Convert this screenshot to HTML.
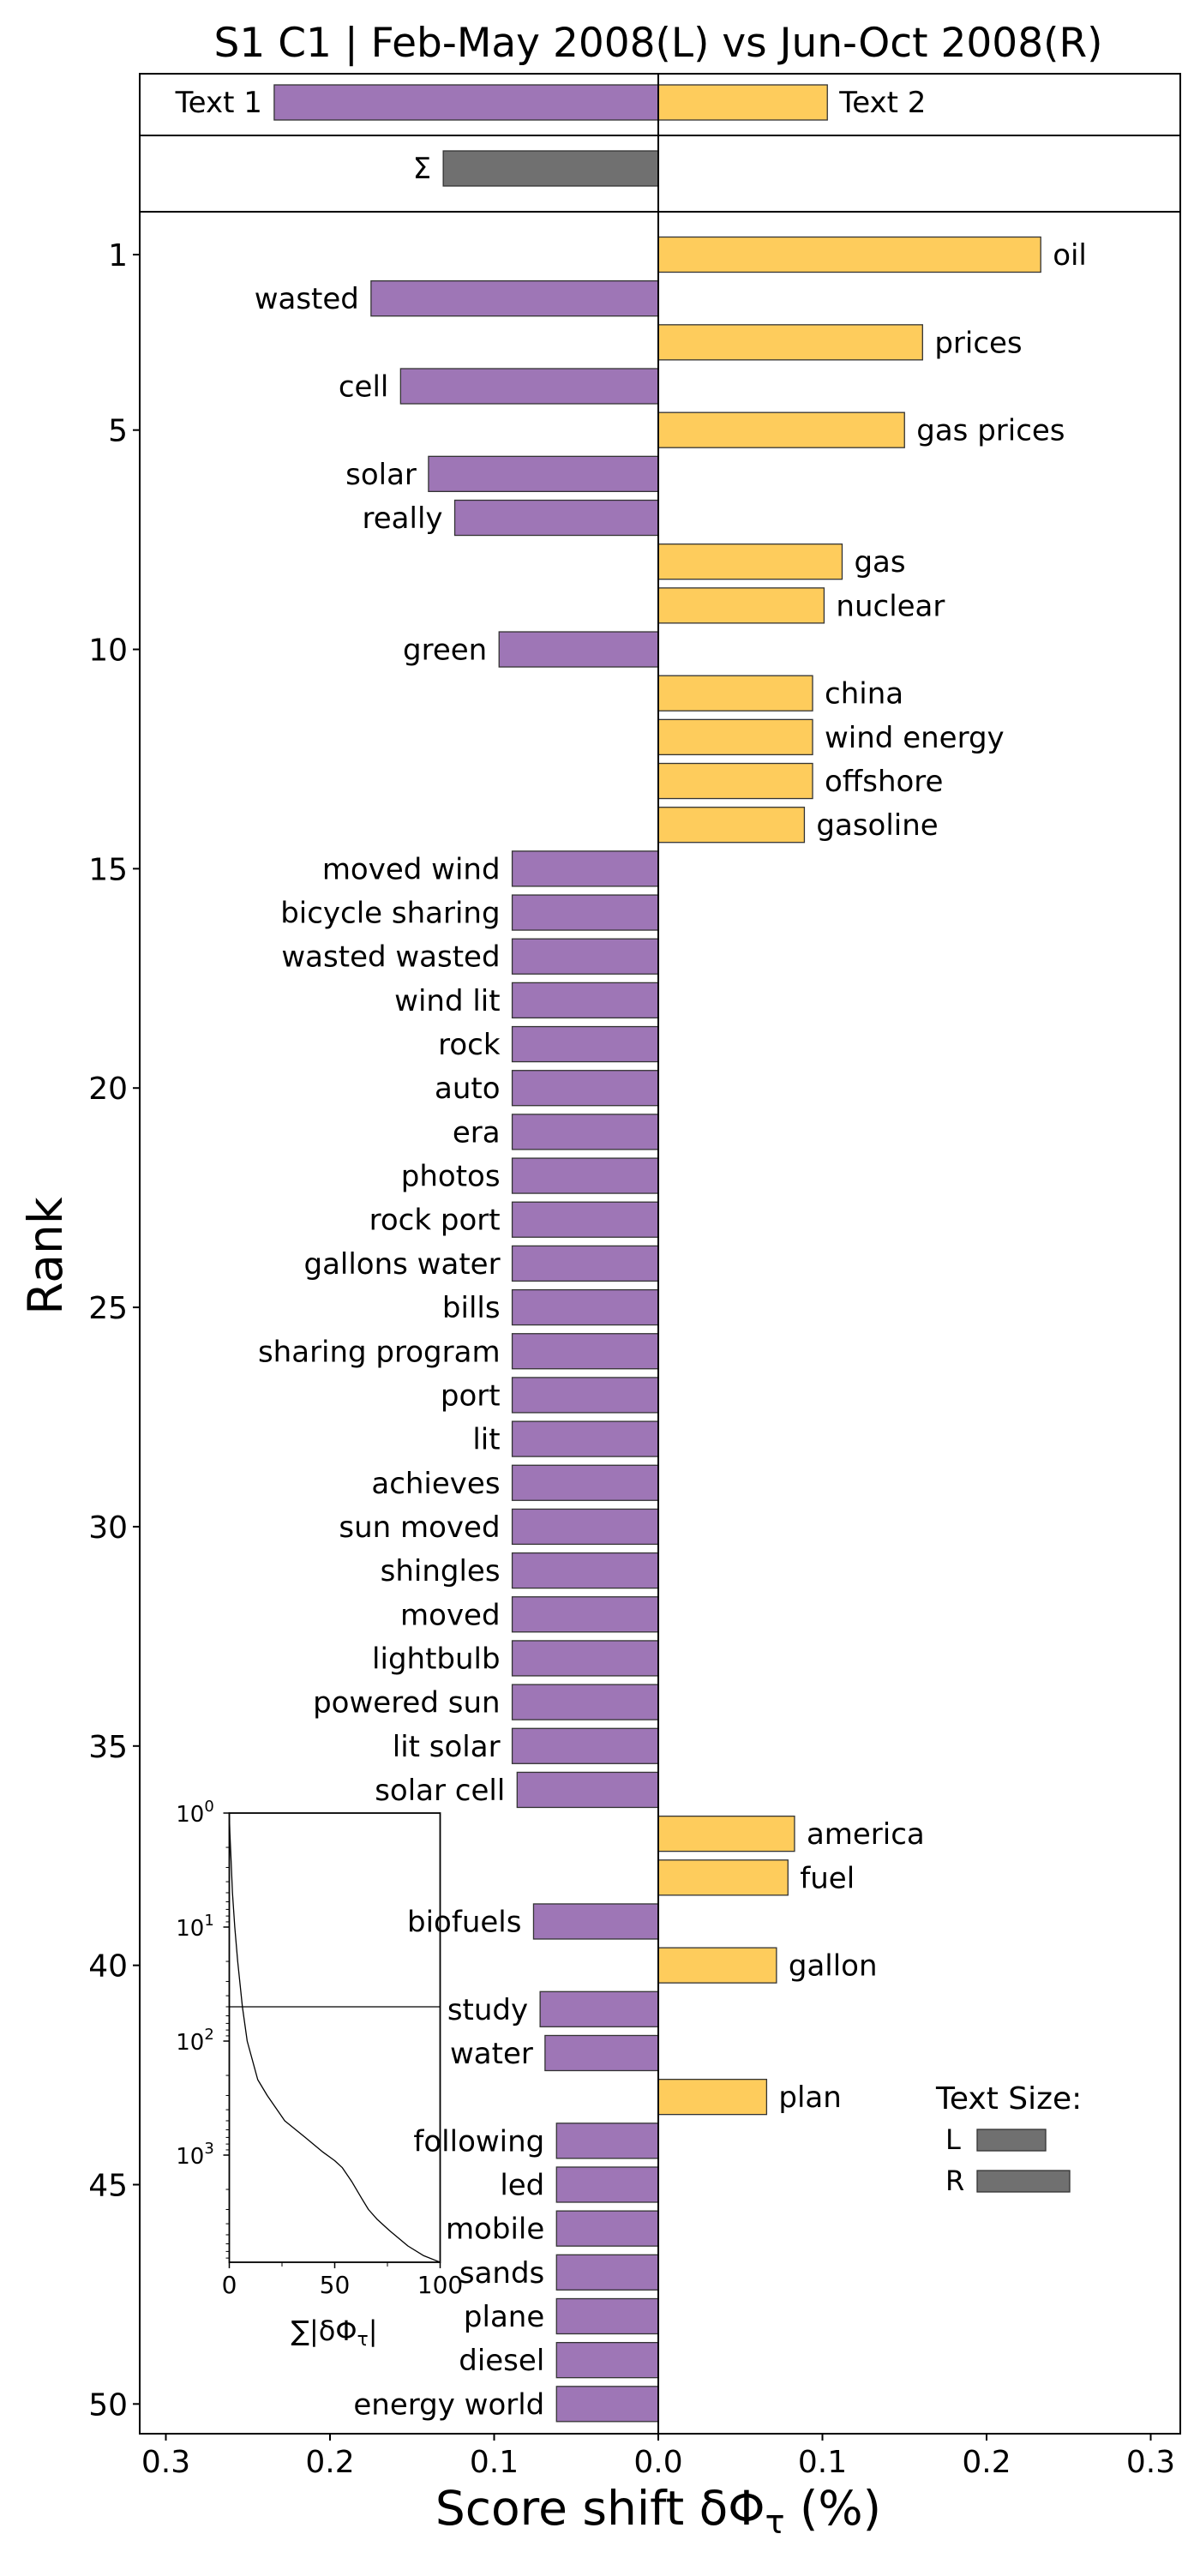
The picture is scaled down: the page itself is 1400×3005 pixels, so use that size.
<!DOCTYPE html>
<html><head><meta charset="utf-8"><style>
html,body{margin:0;padding:0;background:#fff;}
svg text{font-family:"DejaVu Sans","Liberation Sans",sans-serif;}
</style></head><body>
<svg id="chart" width="1400" height="3000" viewBox="0 0 1400 3000" xmlns="http://www.w3.org/2000/svg">
<text x="768" y="66" font-size="47" text-anchor="middle">S1 C1 | Feb-May 2008(L) vs Jun-Oct 2008(R)</text>
<g id="g"></g>
</svg>
<script>
const words = ["oil","wasted","prices","cell","gas prices","solar","really","gas","nuclear","green","china","wind energy","offshore","gasoline","moved wind","bicycle sharing","wasted wasted","wind lit","rock","auto","era","photos","rock port","gallons water","bills","sharing program","port","lit","achieves","sun moved","shingles","moved","lightbulb","powered sun","lit solar","solar cell","america","fuel","biofuels","gallon","study","water","plan","following","led","mobile","sands","plane","diesel","energy world"];
const shifts = [0.233,-0.175,0.161,-0.157,0.150,-0.140,-0.124,0.112,0.101,-0.097,0.094,0.094,0.094,0.089,-0.089,-0.089,-0.089,-0.089,-0.089,-0.089,-0.089,-0.089,-0.089,-0.089,-0.089,-0.089,-0.089,-0.089,-0.089,-0.089,-0.089,-0.089,-0.089,-0.089,-0.089,-0.086,0.083,0.079,-0.076,0.072,-0.072,-0.069,0.066,-0.062,-0.062,-0.062,-0.062,-0.062,-0.062,-0.062];
const totals = [-0.234, 0.103];
const sigmaTotal = [-0.131];
const xTicks = [-0.3,-0.2,-0.1,0,0.1,0.2,0.3];
const xTickLabels = ["0.3","0.2","0.1","0.0","0.1","0.2","0.3"];
const rankTicks = [1,5,10,15,20,25,30,35,40,45,50];
const insetPct = [0,0.3,0.8,1.5,2.6,4,6.2,8.5,13.5,18,26.3,36,44.5,50,53.6,58,62.8,66,70,76,84.7,92,100];
const insetRank = [1,1.5,2.5,5,10,20,50,100,218,300,500,700,944,1120,1290,1700,2400,3000,3640,4600,6270,7600,8700];
const insetXTicks = [0,50,100];
const insetYTicks = [0,1,2,3];
const textSize = [80,108];

const NS="http://www.w3.org/2000/svg";
const g=document.getElementById('g');
function el(t,a,txt){const e=document.createElementNS(NS,t);for(const k in a)e.setAttribute(k,a[k]);if(txt!==undefined)e.textContent=txt;g.appendChild(e);return e;}
const X0=768, XS=1915;
const xs=v=>X0+v*XS;
const ys=r=>297+(r-1)*51.17;
const BH=41;
const L=163,R=1377,T=247,B=2839;
const PURPLE="#9e76b6",GOLD="#fecc5c";
const FS=34;

let e=el('rect',{x:L,y:86,width:R-L,height:72,fill:'none',stroke:'#000','stroke-width':2});

e=el('rect',{x:L,y:158,width:R-L,height:89,fill:'none',stroke:'#000','stroke-width':2});

totals.forEach((v,i)=>{
  const x=Math.min(xs(v),X0),w=Math.abs(xs(v)-X0);
  let r=el('rect',{x:x,y:99,width:w,height:41,fill:v<0?PURPLE:GOLD,stroke:'#333','stroke-width':1.3});
  
  let t=el('text',{x:v<0?xs(v)-14:xs(v)+14,y:131,'font-size':FS,'text-anchor':v<0?'end':'start'},i==0?'Text 1':'Text 2');
  
});
sigmaTotal.forEach(v=>{
  let r=el('rect',{x:xs(v),y:176,width:X0-xs(v),height:41,fill:'#707070',stroke:'#333','stroke-width':1.3});
  
  let t=el('text',{x:xs(v)-14,y:208,'font-size':FS,'text-anchor':'end'},'Σ');
  
});

e=el('rect',{x:L,y:T,width:R-L,height:B-T,fill:'none',stroke:'#000','stroke-width':2});


shifts.forEach((v,i)=>{
  const r=i+1,y=ys(r);
  const x=Math.min(xs(v),X0),w=Math.abs(xs(v)-X0);
  let b=el('rect',{x:x,y:y-BH/2,width:w,height:BH,fill:v<0?PURPLE:GOLD,stroke:'#333','stroke-width':1.3});
  
  let t=el('text',{x:v<0?xs(v)-14:xs(v)+14,y:y+12,'font-size':FS,'text-anchor':v<0?'end':'start'},words[i]);
  
});
e=el('line',{x1:X0,y1:86,x2:X0,y2:B,stroke:'#000','stroke-width':2});


rankTicks.forEach(r=>{
  el('line',{x1:L-8,y1:ys(r),x2:L,y2:ys(r),stroke:'#000','stroke-width':2});
  let t=el('text',{x:L-14,y:ys(r)+13,'font-size':36,'text-anchor':'end'},String(r));
  
});
xTicks.forEach((v,i)=>{
  el('line',{x1:xs(v),y1:B,x2:xs(v),y2:B+8,stroke:'#000','stroke-width':2});
  let t=el('text',{x:xs(v),y:B+45,'font-size':36,'text-anchor':'middle'},xTickLabels[i]);
  
});
e=el('text',{x:768,y:2945,'font-size':55,'text-anchor':'middle'},'Score shift δΦ');

let tp=document.createElementNS(NS,'tspan');tp.setAttribute('font-size','38');tp.setAttribute('dy','10');tp.textContent='τ';e.appendChild(tp);
tp=document.createElementNS(NS,'tspan');tp.setAttribute('dy','-10');tp.textContent=' (%)';e.appendChild(tp);
e=el('text',{x:0,y:0,'font-size':55,'text-anchor':'middle',transform:'translate(72,1465) rotate(-90)'},'Rank');


// inset
const IL=267.5,IR=513.5,IT=2115,IB=2639;
const ix=p=>IL+p/100*(IR-IL);
const iy=r=>IT+Math.log10(r)*133;
e=el('rect',{x:IL,y:IT,width:IR-IL,height:IB-IT,fill:'none',stroke:'#000','stroke-width':1.8});

let d='';insetPct.forEach((p,i)=>{d+=(i?'L':'M')+ix(p).toFixed(1)+','+iy(insetRank[i]).toFixed(1);});
e=el('path',{d:d,fill:'none',stroke:'#000','stroke-width':1.3,'stroke-linejoin':'round'});

e=el('line',{x1:IL,y1:iy(50),x2:IR,y2:iy(50),stroke:'#000','stroke-width':1.3});

insetYTicks.forEach(k=>{
  el('line',{x1:IL-7,y1:iy(Math.pow(10,k)),x2:IL,y2:iy(Math.pow(10,k)),stroke:'#000','stroke-width':1.5});
  let t=el('text',{x:IL-40,y:iy(Math.pow(10,k))+10,'font-size':26,'text-anchor':'middle'},'10');
  
  let s=document.createElementNS(NS,'tspan');s.setAttribute('font-size','18');s.setAttribute('dy','-12');s.textContent=String(k);t.appendChild(s);
  for(let m=2;m<10;m++){const yy=iy(m*Math.pow(10,k));if(yy<IB)el('line',{x1:IL-4,y1:yy,x2:IL,y2:yy,stroke:'#000','stroke-width':1});}
});
insetXTicks.forEach(v=>{
  el('line',{x1:ix(v),y1:IB,x2:ix(v),y2:IB+7,stroke:'#000','stroke-width':1.5});
  let t=el('text',{x:ix(v),y:IB+36,'font-size':28,'text-anchor':'middle'},String(v));
  
});
[25,75].forEach(v=>el('line',{x1:ix(v),y1:IB,x2:ix(v),y2:IB+5,stroke:'#000','stroke-width':1}));
e=el('text',{x:390,y:2730,'font-size':32,'text-anchor':'middle'},'∑|δΦ');

tp=document.createElementNS(NS,'tspan');tp.setAttribute('font-size','22');tp.setAttribute('dy','6');tp.textContent='τ';e.appendChild(tp);
tp=document.createElementNS(NS,'tspan');tp.setAttribute('dy','-6');tp.textContent='|';e.appendChild(tp);

e=el('text',{x:1092,y:2460,'font-size':36},'Text Size:');

['L','R'].forEach((k,i)=>{
  const y=2484+i*48;
  let t=el('text',{x:1103,y:y+23,'font-size':32},k);
  
  let r=el('rect',{x:1140,y:y,width:textSize[i],height:25,fill:'#707070',stroke:'#333','stroke-width':1.3});
  
});
</script>
</body></html>
